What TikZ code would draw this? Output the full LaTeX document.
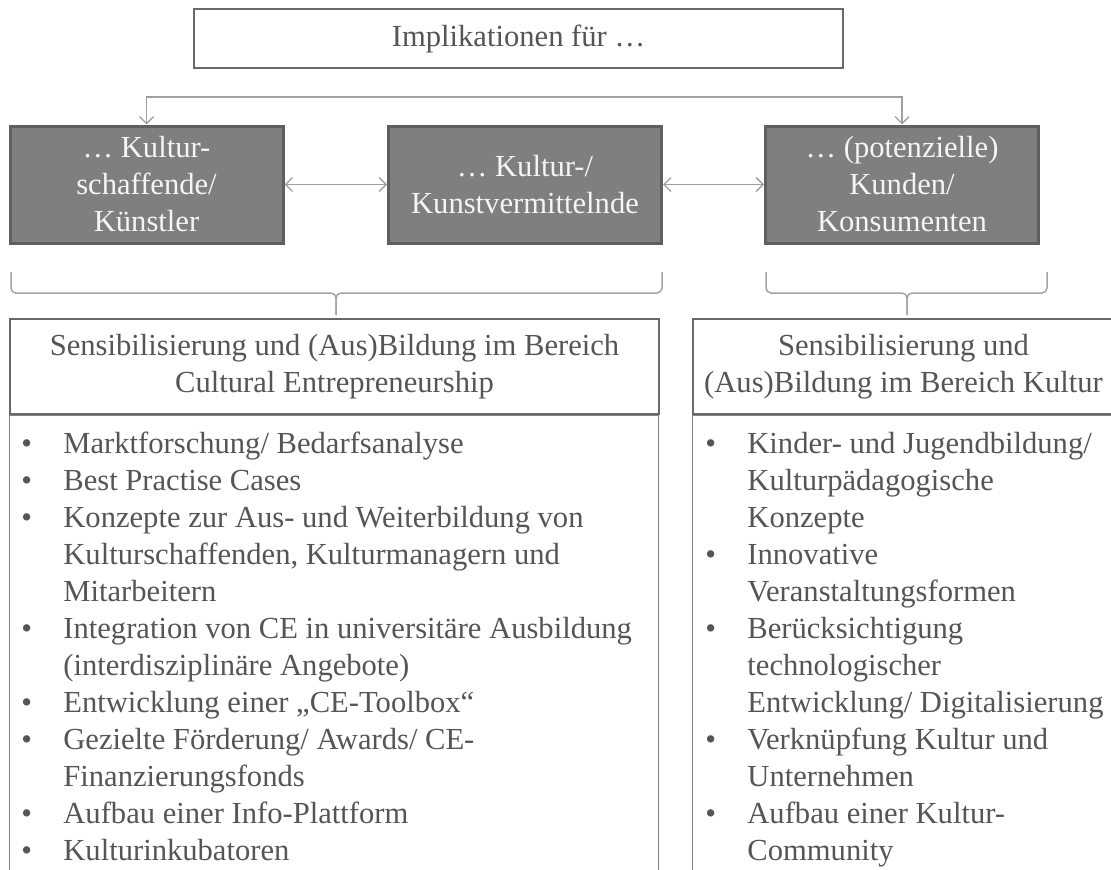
\documentclass[tikz,border=0pt]{standalone}
\usepackage{fontspec}
\setmainfont{Liberation Serif}
\usetikzlibrary{arrows.meta}
\definecolor{boxline}{RGB}{105,105,105}
\definecolor{listline}{RGB}{130,130,130}
\definecolor{actorfill}{RGB}{127,127,127}
\definecolor{actorline}{RGB}{95,95,95}
\definecolor{linkgray}{RGB}{160,160,160}
\definecolor{bracegray}{RGB}{165,165,165}
\definecolor{txt}{RGB}{85,85,85}
\definecolor{lighttxt}{RGB}{245,245,245}
\newcommand\itm{\makebox[42pt][l]{•}}
\newcommand\cnt{\hspace*{42pt}}
\tikzset{
  every node/.style={font=\fontsize{30.6}{37}\selectfont, text=txt},
  topbox/.style={draw=boxline, line width=2pt, minimum width=649pt, minimum height=59pt},
  actor/.style={draw=actorline, fill=actorfill, line width=3pt, text=lighttxt, align=center,
    minimum width=273pt, minimum height=117pt, inner sep=0pt},
  headbox/.style={draw=boxline, line width=1.6pt, minimum height=95pt, align=center, inner sep=0pt},
  listbox/.style={draw=listline, line width=1pt, minimum height=470pt, anchor=north west},
  items/.style={align=left, anchor=north west, inner sep=0pt},
  link/.style={draw=linkgray, line width=1.4pt},
  brace/.style={draw=bracegray, line width=1.5pt, rounded corners=5pt}
}
\begin{document}
\begin{tikzpicture}[x=1pt,y=-1pt,>={Straight Barb[length=7pt,width=14pt]}]
\useasboundingbox (0,0) rectangle (1111,870);
\node[topbox] (impl) at (518.5,38.5) {Implikationen für …};
\node[actor] (kuenstler) at (146.5,184.5) {… Kultur-\\schaffende/\\Künstler};
\node[actor] (vermittler) at (525,184.5) {… Kultur-/\\Kunstvermittelnde};
\node[actor] (kunden) at (902,184.5) {… (potenzielle)\\Kunden/\\Konsumenten};
\coordinate (bar) at (0,97);
\draw[link,<->] (kuenstler.north) -- (kuenstler.north |- bar) -- (kunden.north |- bar) -- (kunden.north);
\draw[link,<->] (kuenstler) -- (vermittler);
\draw[link,<->] (vermittler) -- (kunden);
\draw[brace] (11,272) -- (11,293) -- (336,293) -- (336,315);
\draw[brace] (662,272) -- (662,293) -- (336,293) -- (336,315);
\draw[brace] (766,272) -- (766,293) -- (907,293) -- (907,315);
\draw[brace] (1047,272) -- (1047,293) -- (907,293) -- (907,315);
\node[headbox, minimum width=649pt] (ceHead) at (334.5,366.5)
  {Sensibilisierung und (Aus)Bildung im Bereich\\Cultural Entrepreneurship};
\node[headbox, minimum width=421pt] (kulturHead) at (903.5,366.5)
  {Sensibilisierung und\\(Aus)Bildung im Bereich Kultur};
\node[listbox, minimum width=649pt] (ceList) at (ceHead.south west) {};
\node[listbox, minimum width=421pt] (kulturList) at (kulturHead.south west) {};
\node[items] (ceItems) at ([shift={(12,17)}]ceList.north west) {%
\itm Marktforschung/ Bedarfsanalyse\\
\itm Best Practise Cases\\
\itm Konzepte zur Aus- und Weiterbildung von\\
\cnt Kulturschaffenden, Kulturmanagern und\\
\cnt Mitarbeitern\\
\itm Integration von CE in universitäre Ausbildung\\
\cnt (interdisziplinäre Angebote)\\
\itm Entwicklung einer „CE-Toolbox“\\
\itm Gezielte Förderung/ Awards/ CE-\\
\cnt Finanzierungsfonds\\
\itm Aufbau einer Info-Plattform\\
\itm Kulturinkubatoren};
\node[items] (kulturItems) at ([shift={(13,17)}]kulturList.north west) {%
\itm Kinder- und Jugendbildung/\\
\cnt Kulturpädagogische\\
\cnt Konzepte\\
\itm Innovative\\
\cnt Veranstaltungsformen\\
\itm Berücksichtigung\\
\cnt technologischer\\
\cnt Entwicklung/ Digitalisierung\\
\itm Verknüpfung Kultur und\\
\cnt Unternehmen\\
\itm Aufbau einer Kultur-\\
\cnt Community};
\end{tikzpicture}
\end{document}
